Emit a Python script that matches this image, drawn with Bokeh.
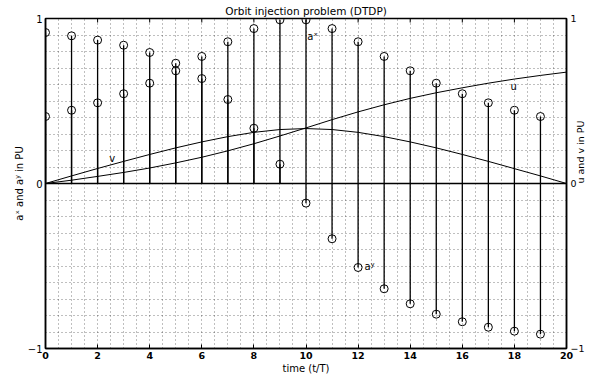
import math
from bokeh.plotting import figure
from bokeh.models import (Range1d, LinearAxis, SingleIntervalTicker, FixedTicker,
                          Label, Span, ColumnDataSource)
from bokeh.embed import file_html
from bokeh.resources import INLINE

# ---- data ----
steps = list(range(20))
ax_vals = [0.406, 0.444, 0.489, 0.544, 0.608, 0.683, 0.770, 0.859, 0.939, 0.992,
           0.992, 0.939, 0.859, 0.770, 0.683, 0.608, 0.544, 0.489, 0.444, 0.406]
ay_vals = [0.915, 0.895, 0.869, 0.838, 0.794, 0.729, 0.636, 0.509, 0.335, 0.117,
           -0.119, -0.335, -0.509, -0.638, -0.729, -0.792, -0.838, -0.871, -0.895, -0.913]
state_t = list(range(21))
u_vals = [0.000, 0.020, 0.043, 0.067, 0.094, 0.125, 0.159, 0.198, 0.241, 0.288, 0.337,
          0.387, 0.434, 0.477, 0.516, 0.550, 0.580, 0.608, 0.633, 0.655, 0.675]
v_vals = [0.000, 0.046, 0.091, 0.134, 0.176, 0.216, 0.252, 0.284, 0.310, 0.327, 0.333,
          0.327, 0.310, 0.284, 0.252, 0.216, 0.176, 0.134, 0.090, 0.046, 0.000]
x_ticks = [0, 2, 4, 6, 8, 10, 12, 14, 16, 18, 20]
y_ticks = [-1, 0, 1]
y_tick_labels = {-1: "\u22121", 0: "0", 1: "1"}

FONT = "DejaVu Sans"

p = figure(width=594, height=378, x_range=Range1d(0, 20), y_range=Range1d(-1, 1),
           output_backend="svg", toolbar_location=None,
           min_border_left=45, min_border_right=26, min_border_top=18, min_border_bottom=30,
           background_fill_color="white", border_fill_color="white",
           outline_line_color="black", outline_line_width=1.5)

p.title.text = "Orbit injection problem (DTDP)"
p.title.align = "center"
p.title.text_font = FONT
p.title.text_font_size = "10.5px"
p.title.text_font_style = "normal"
p.title.text_color = "black"
p.title.standoff = 4
p.title.offset = 0

# grid
p.xgrid.ticker = SingleIntervalTicker(interval=0.5)
p.ygrid.ticker = SingleIntervalTicker(interval=0.1)
for g in (p.xgrid, p.ygrid):
    g.grid_line_color = "black"
    g.grid_line_alpha = 0.5
    g.grid_line_dash = "1 3"
    g.grid_line_width = 1

# axes
xa = p.xaxis[0]
xa.ticker = FixedTicker(ticks=x_ticks)
ya = p.yaxis[0]
ya.ticker = FixedTicker(ticks=y_ticks)
ya.major_label_overrides = y_tick_labels

p.extra_y_ranges = {"r": Range1d(-1, 1)}
ra = LinearAxis(y_range_name="r", ticker=FixedTicker(ticks=y_ticks),
                major_label_overrides=y_tick_labels)
p.add_layout(ra, "right")

for a in (xa, ya, ra):
    a.axis_line_color = "black"
    a.axis_line_width = 1.5
    a.major_tick_in = 4
    a.major_tick_out = 0
    a.major_tick_line_color = "black"
    a.major_tick_line_width = 1
    a.minor_tick_line_color = None
    a.major_label_text_font = FONT
    a.major_label_text_color = "black"
    a.axis_label_text_font = FONT
    a.axis_label_text_font_style = "normal"
    a.axis_label_text_color = "black"
    a.axis_label_text_font_size = "10px"

xa.major_label_text_font_size = "9.5px"
xa.major_label_text_font_style = "bold"
xa.major_label_standoff = 3
xa.axis_label = "time (t/T)"
xa.axis_label_standoff = 1

ya.major_label_text_font_size = "10px"
ya.major_label_standoff = 3
ya.axis_label = "a\u02e3 and a\u02b8 in PU"
ya.axis_label_standoff = 0

ra.major_label_text_font_size = "9.5px"
ra.major_label_standoff = 4
ra.axis_label = "u and v in PU"
ra.axis_label_text_font_size = "9.5px"
ra.axis_label_standoff = -7
ra.axis_label_orientation = math.pi / 2

# tick marks along the top edge (box style), pointing inwards
p.scatter(x_ticks, [1] * len(x_ticks), marker="dash", angle=math.pi / 2, size=8,
          line_color="black", line_width=1)

# zero baseline
p.add_layout(Span(location=0, dimension="width", line_color="black", line_width=1.5))

# stems
src = ColumnDataSource(dict(t=steps, ax=ax_vals, ay=ay_vals, zero=[0] * len(steps)))
p.segment(x0="t", y0="zero", x1="t", y1="ax", source=src, line_color="black", line_width=1.3)
p.segment(x0="t", y0="zero", x1="t", y1="ay", source=src, line_color="black", line_width=1.3)
p.scatter("t", "ax", source=src, marker="circle", size=8, fill_color=None,
          line_color="black", line_width=1)
p.scatter("t", "ay", source=src, marker="circle", size=8, fill_color=None,
          line_color="black", line_width=1)

# state curves
p.line(state_t, u_vals, line_color="black", line_width=1)
p.line(state_t, v_vals, line_color="black", line_width=1)

# in-plot labels
for txt, x, y in (("a\u02e3", 10.05, 0.89), ("a\u02b8", 12.25, -0.50),
                  ("u", 17.85, 0.59), ("v", 2.45, 0.15)):
    p.add_layout(Label(x=x, y=y, text=txt, text_font=FONT, text_font_size="10px",
                       text_baseline="middle", text_align="left", text_color="black"))

open("out.html", "w").write(file_html(p, INLINE))
